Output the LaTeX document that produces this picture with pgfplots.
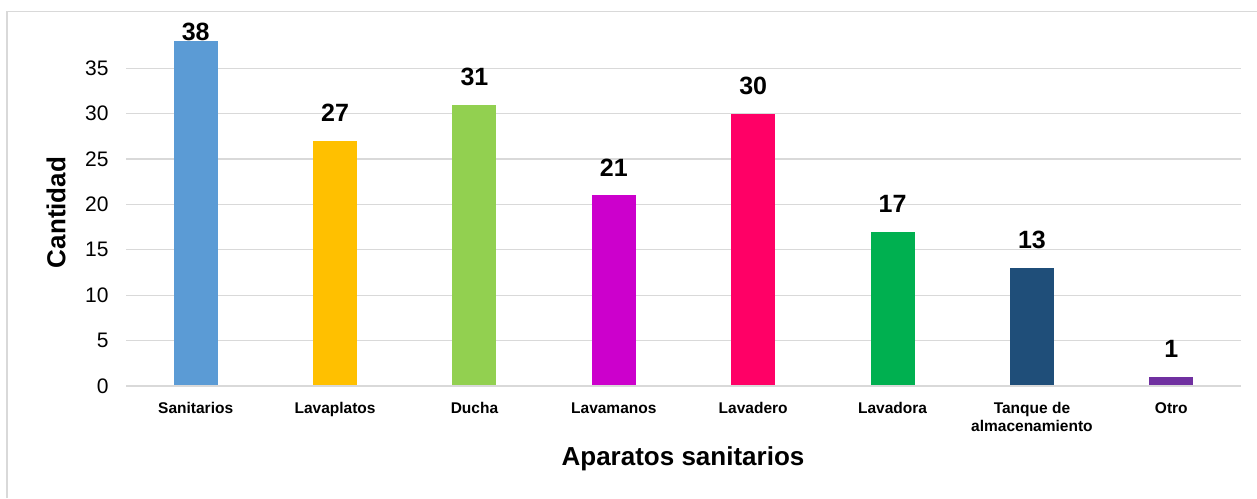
\documentclass[border=0pt]{standalone}
\usepackage{pgfplots}
\pgfplotsset{compat=1.18}
\usepackage{fontspec}
\setmainfont{Liberation Sans}
\definecolor{c1}{HTML}{5B9BD5}
\definecolor{c2}{HTML}{FFC000}
\definecolor{c3}{HTML}{92D050}
\definecolor{c4}{HTML}{CC00CC}
\definecolor{c5}{HTML}{FF0066}
\definecolor{c6}{HTML}{00B050}
\definecolor{c7}{HTML}{1F4E79}
\definecolor{c8}{HTML}{7030A0}
\definecolor{gridc}{HTML}{D9D9D9}
\pgfplotsset{lab/.style={nodes near coords, nodes near coords style={font=\bfseries\fontsize{25}{28}\selectfont, anchor=base, yshift=#1, black}}}
\begin{document}
\begin{tikzpicture}[x=1pt,y=1pt]
\useasboundingbox (0,0) rectangle (1257,498);
\fill[white] (0,0) rectangle (1257,498);
\draw[gridc,line width=1.2pt] (7,0) -- (7,486.5) -- (1257,486.5);
\begin{axis}[
  at={(126pt,112pt)}, anchor=south west,
  scale only axis, width=1115pt, height=345pt,
  xmin=-0.5, xmax=7.5, ymin=0, ymax=38,
  clip=false,
  axis line style={draw=none},
  major tick length=0pt,
  ytick={0,5,...,35},
  ymajorgrids, grid style={gridc, line width=1.2pt},
  xtick={0,...,7},
  xticklabels={Sanitarios,Lavaplatos,Ducha,Lavamanos,Lavadero,Lavadora,{Tanque de\\almacenamiento},Otro},
  xticklabel style={font=\bfseries\fontsize{15.5}{18}\selectfont, align=center, anchor=north, yshift=-13pt},
  yticklabel style={font=\fontsize{21}{24}\selectfont, anchor=east, xshift=-14pt},
  /pgf/number format/assume math mode=true,
  ybar, bar width=44pt,
  every axis plot/.append style={bar shift=0pt, draw=none},
]
\addplot[fill=c1, lab=0.5pt] coordinates {(0,38)};
\addplot[fill=c2, lab=19pt] coordinates {(1,27)};
\addplot[fill=c3, lab=19pt] coordinates {(2,31)};
\addplot[fill=c4, lab=19pt] coordinates {(3,21)};
\addplot[fill=c5, lab=19pt] coordinates {(4,30)};
\addplot[fill=c6, lab=19pt] coordinates {(5,17)};
\addplot[fill=c7, lab=19pt] coordinates {(6,13)};
\addplot[fill=c8, lab=19pt] coordinates {(7,1)};
\draw[gridc, line width=1.2pt] (axis cs:-0.5,0) -- (axis cs:7.5,0);
\end{axis}
\node[font=\bfseries\fontsize{26}{30}\selectfont, rotate=90] at (56,285.5) {Cantidad};
\node[font=\bfseries\fontsize{26}{30}\selectfont] at (683,39) {Aparatos sanitarios};
\end{tikzpicture}
\end{document}
